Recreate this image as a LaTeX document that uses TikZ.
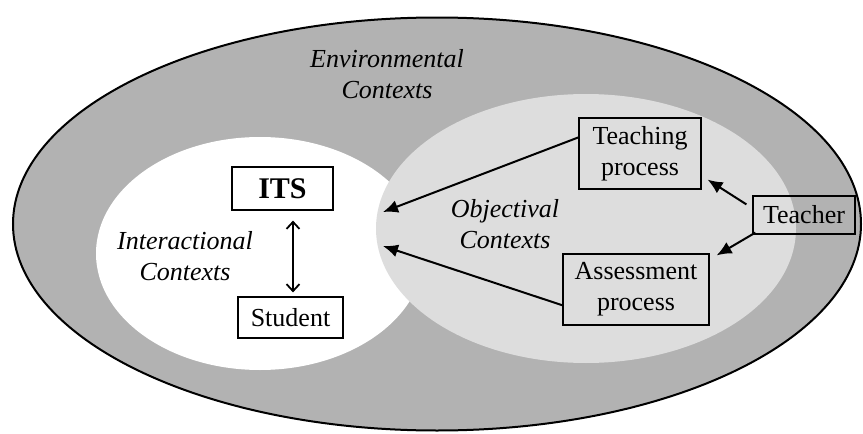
\documentclass[tikz,border=0pt]{standalone}
\usepackage{fontspec}
\setmainfont{Liberation Serif}
\usetikzlibrary{arrows.meta,calc}
\definecolor{envgray}{RGB}{178,178,178}
\definecolor{objgray}{RGB}{221,221,221}
\begin{document}
\begin{tikzpicture}[x=1pt,y=-1pt,
  box/.style={draw,line width=1.2pt,inner sep=0pt,align=center,
    font=\fontsize{26}{31}\selectfont},
  ctxlabel/.style={inner sep=0pt,align=center,
    font=\fontsize{26}{31}\selectfont\itshape},
  arr/.style={line width=2pt,-{Latex[length=15pt,width=13pt]}},
  biarr/.style={line width=1.8pt,
    {Straight Barb[length=7pt,width=13pt]}-{Straight Barb[length=7pt,width=13pt]}}]
\useasboundingbox (0,0) rectangle (863,434);

% context regions
\draw[fill=envgray,line width=2pt] (437,224) ellipse [x radius=424pt, y radius=206.5pt];
\fill[white] (260,253.5) ellipse [x radius=164pt, y radius=116.5pt];
\fill[objgray] (586,228.5) ellipse [x radius=210pt, y radius=134.5pt];

% region labels (base anchor sits on the last line)
\node[ctxlabel,anchor=base] (env) at (387,98) {Environmental\\Contexts};
\node[ctxlabel,anchor=base] (inter) at (185,280) {Interactional\\Contexts};
\node[ctxlabel,anchor=base] (obj) at (505,248) {Objectival\\Contexts};

% boxes
\node[box,minimum width=101pt,minimum height=43pt,
  font=\fontsize{30}{36}\selectfont\bfseries] (its) at (282.5,188.5) {ITS};
\node[box,minimum width=105pt,minimum height=41pt] (student) at (290.5,317.5) {Student};
\node[box,minimum width=122pt,minimum height=71pt] (teach) at (640,153.5) {Teaching\\process};
\node[box,minimum width=102pt,minimum height=38pt] (teacher) at (804,215) {Teacher};
\node[box,minimum width=146pt,minimum height=71pt] (assess) at (636,289.5) {Assessment\\process};

% free arrow ends inside the objectival region
\coordinate (objA) at (383,212);
\coordinate (objB) at (383,246);

% connectors
\draw[arr] ($(teach.north west)+(0,20)$) -- (objA);
\draw[arr] ($(assess.south west)+(1,-20)$) -- (objB);
\draw[arr] ($(teacher.north west)+(-6,9)$) -- ($(teach.south east)+(6,-10)$);
\draw[arr] ($(teacher.south west)+(3,-2)$) -- ($(assess.north east)+(7,2)$);
\draw[biarr] ($(its.south)+(10.5,10)$) -- ($(student.north)+(2.5,-4)$);
\end{tikzpicture}
\end{document}
